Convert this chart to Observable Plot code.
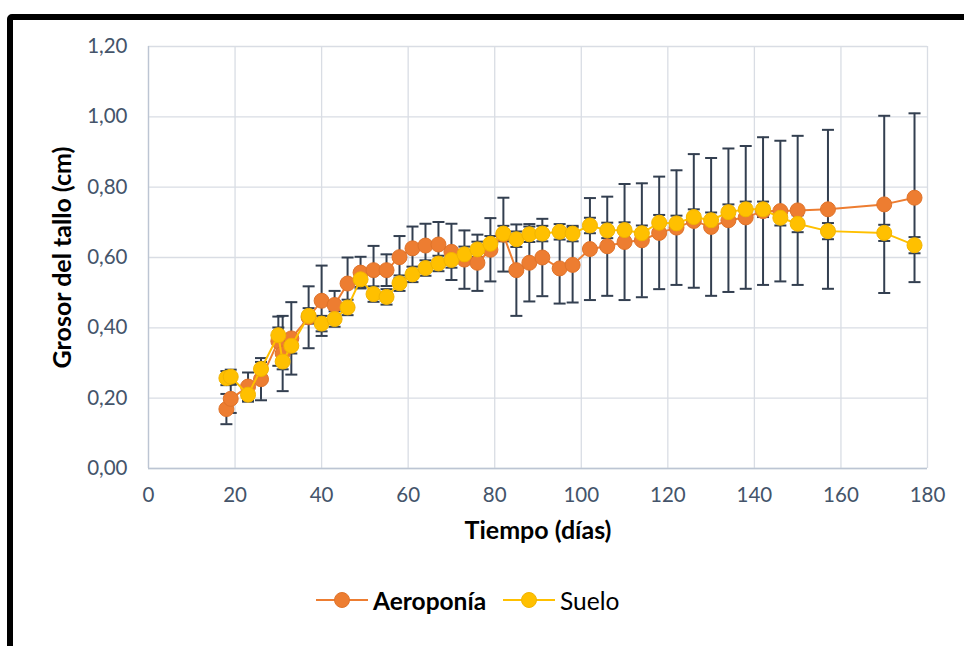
<!DOCTYPE html>
<html><head><meta charset="utf-8">
<script src="https://cdn.jsdelivr.net/npm/d3@7"></script>
<script src="https://cdn.jsdelivr.net/npm/@observablehq/plot@0.6"></script>
<style>
html,body{margin:0;padding:0;background:#fff;width:964px;height:646px;overflow:hidden;font-family:Lato,"Open Sans",sans-serif;}
#chart{position:absolute;left:0;top:0;}
#frame{position:absolute;left:7px;top:14px;width:1000px;height:700px;border:6px solid #000;border-radius:5px;pointer-events:none;}
.leg{position:absolute;top:585px;height:30px;display:flex;align-items:center;font-size:24.5px;color:#000;}
.leg svg{display:block;margin-right:5px;}
</style>
</head><body>
<div id="chart"></div>
<div class="leg" style="left:316px"><svg width="52" height="20"><line x1="0" y1="10" x2="52" y2="10" stroke="#ed7d31" stroke-width="2"/><circle cx="26" cy="10" r="7.5" fill="#ed7d31" stroke="#e0732a"/></svg><b>Aeroponía</b></div>
<div class="leg" style="left:503px"><svg width="52" height="20"><line x1="0" y1="10" x2="52" y2="10" stroke="#ffc000" stroke-width="2"/><circle cx="26" cy="10" r="7.5" fill="#ffc000" stroke="#f2b400"/></svg><span>Suelo</span></div>
<div id="frame"></div>
<script>
const days = [18,19,23,26,30,31,33,37,40,43,46,49,52,55,58,61,64,67,70,73,76,79,82,85,88,91,95,98,102,106,110,114,118,122,126,130,134,138,142,146,150,157,170,177];
const aeroponia = [0.169,0.198,0.233,0.254,0.362,0.327,0.370,0.430,0.477,0.465,0.526,0.557,0.564,0.564,0.601,0.626,0.634,0.637,0.616,0.594,0.585,0.622,0.665,0.564,0.585,0.600,0.569,0.579,0.624,0.632,0.644,0.649,0.670,0.685,0.704,0.687,0.706,0.714,0.732,0.732,0.734,0.737,0.751,0.770];
const aeroponiaErr = [0.043,0.04,0.04,0.06,0.07,0.107,0.103,0.088,0.10,0.04,0.074,0.045,0.069,0.045,0.06,0.062,0.062,0.064,0.08,0.083,0.08,0.09,0.105,0.13,0.11,0.11,0.10,0.107,0.145,0.141,0.165,0.162,0.16,0.163,0.19,0.196,0.204,0.203,0.21,0.20,0.212,0.226,0.252,0.24];
const suelo = [0.257,0.261,0.210,0.283,0.379,0.304,0.349,0.434,0.412,0.425,0.458,0.538,0.496,0.488,0.527,0.552,0.570,0.583,0.593,0.609,0.623,0.639,0.668,0.652,0.666,0.668,0.673,0.668,0.691,0.677,0.678,0.669,0.699,0.697,0.715,0.706,0.729,0.737,0.737,0.713,0.696,0.675,0.670,0.635];
const sueloErr = [0.02,0.02,0.02,0.02,0.022,0.022,0.022,0.022,0.022,0.022,0.022,0.022,0.022,0.022,0.022,0.022,0.022,0.022,0.022,0.022,0.022,0.022,0.022,0.022,0.022,0.022,0.022,0.022,0.022,0.022,0.022,0.022,0.022,0.022,0.022,0.022,0.022,0.022,0.022,0.022,0.024,0.023,0.023,0.023];
const xTicks = [0,20,40,60,80,100,120,140,160,180];
const yTicks = [0,0.2,0.4,0.6,0.8,1.0,1.2];
const xTitle = "Tiempo (días)";
const yTitle = "Grosor del tallo (cm)";

const rows = days.map((d,i)=>({day:d, a:aeroponia[i], ae:aeroponiaErr[i], s:suelo[i], se:sueloErr[i]}));
const cap = {draw(ctx){ctx.moveTo(-6,0);ctx.lineTo(6,0);}};
const errColor = "#333f50";

const chart = Plot.plot({
  width: 964, height: 560,
  marginLeft: 148, marginRight: 37, marginTop: 46, marginBottom: 92,
  style: {fontFamily: "Lato, 'Open Sans', sans-serif", fontSize: "20.5px", color: "#44546a", background: "transparent"},
  x: {domain: [0,180], ticks: xTicks, tickSize: 0, tickPadding: 19, label: null},
  y: {domain: [0,1.2], ticks: yTicks, tickSize: 0, tickPadding: 21, label: null,
      tickFormat: d => d.toFixed(2).replace(".", ",")},
  marks: [
    Plot.ruleY(yTicks, {y: d=>d, stroke: "#d9dde4", strokeWidth: 1.3}),
    Plot.ruleX(xTicks, {x: d=>d, stroke: "#d9dde4", strokeWidth: 1.3}),
    Plot.ruleX([0], {x: d=>d, stroke: "#bcc5d3", strokeWidth: 1.3}),
    Plot.ruleY([0], {y: d=>d, stroke: "#bcc5d3", strokeWidth: 1.3}),
    Plot.ruleX(rows, {x: "day", y1: d=>d.a-d.ae, y2: d=>d.a+d.ae, stroke: errColor, strokeWidth: 2}),
    Plot.dot(rows, {x: "day", y: d=>d.a+d.ae, symbol: cap, stroke: errColor, strokeWidth: 2, fill: "none"}),
    Plot.dot(rows, {x: "day", y: d=>d.a-d.ae, symbol: cap, stroke: errColor, strokeWidth: 2, fill: "none"}),
    Plot.ruleX(rows, {x: "day", y1: d=>d.s-d.se, y2: d=>d.s+d.se, stroke: errColor, strokeWidth: 2}),
    Plot.dot(rows, {x: "day", y: d=>d.s+d.se, symbol: cap, stroke: errColor, strokeWidth: 2, fill: "none"}),
    Plot.dot(rows, {x: "day", y: d=>d.s-d.se, symbol: cap, stroke: errColor, strokeWidth: 2, fill: "none"}),
    Plot.line(rows, {x: "day", y: "a", stroke: "#ed7d31", strokeWidth: 2}),
    Plot.dot(rows, {x: "day", y: "a", r: 7.5, fill: "#ed7d31", stroke: "#e0732a", strokeWidth: 1}),
    Plot.line(rows, {x: "day", y: "s", stroke: "#ffc000", strokeWidth: 2}),
    Plot.dot(rows, {x: "day", y: "s", r: 7.5, fill: "#ffc000", stroke: "#f2b400", strokeWidth: 1}),
    Plot.text([xTitle], {text: d=>d, frameAnchor: "bottom", dy: 70, textAnchor: "middle", fontWeight: "bold", fontSize: 25, fill: "#000"}),
    Plot.text([yTitle], {text: d=>d, frameAnchor: "left", dx: -86, rotate: -90, textAnchor: "middle", fontWeight: "bold", fontSize: 25, fill: "#000"})
  ]
});
document.getElementById("chart").appendChild(chart);
</script>
</body></html>
